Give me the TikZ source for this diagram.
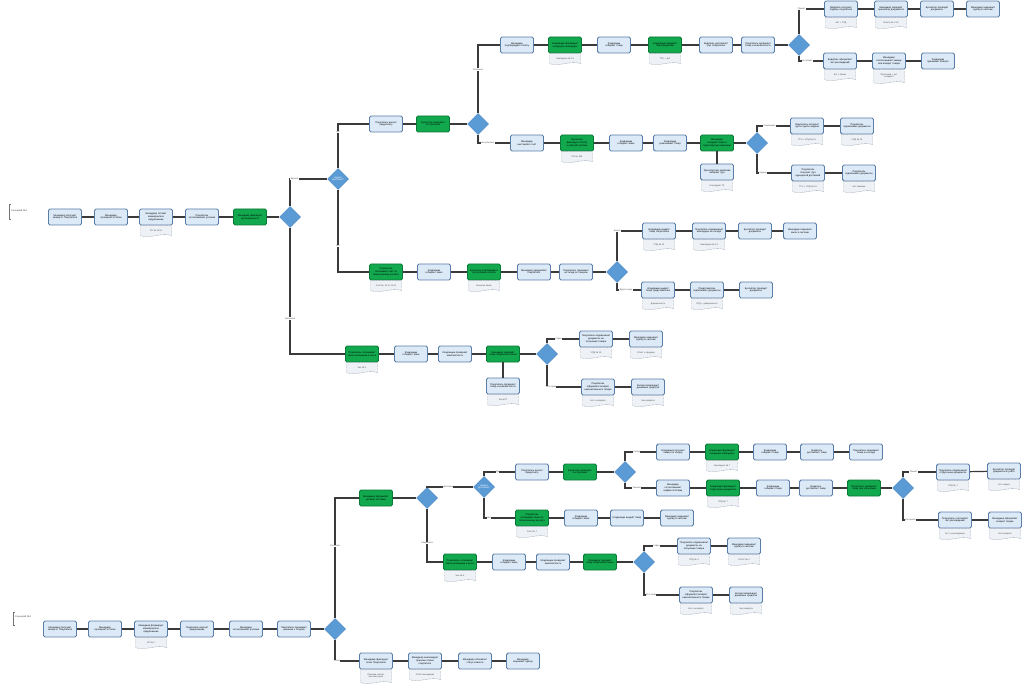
\documentclass[tikz,border=0pt]{standalone}
\usepackage{fontspec}
\setmainfont{Liberation Sans}
\usetikzlibrary{shapes.geometric}
\definecolor{boxf}{HTML}{DCE9F7}
\definecolor{boxb}{HTML}{5A7EA8}
\definecolor{gfill}{HTML}{12A84E}
\definecolor{gdraw}{HTML}{0B7A38}
\definecolor{diaf}{HTML}{5B9BD5}
\definecolor{diab}{HTML}{4A88C4}
\definecolor{lineC}{HTML}{3A3A3A}
\definecolor{docf}{HTML}{EEF2F7}
\definecolor{docb}{HTML}{9AA4B2}
\tikzset{
  tinyf/.style={font=\fontsize{2.4}{2.8}\selectfont},
  box/.style={tinyf, draw=boxb, fill=boxf, rounded corners=1.6pt, line width=0.9pt, minimum width=33pt, minimum height=16pt, text width=29pt, align=center, inner sep=0pt},
  gbox/.style={box, draw=gdraw, fill=gfill},
  dia/.style={tinyf, diamond, draw=diab, fill=diaf, line width=0.5pt, minimum width=21pt, minimum height=21pt, inner sep=0pt, text=white, align=center},
  con/.style={draw=lineC, line width=1.2pt},
  elab/.style={font=\fontsize{2.2}{2.6}\selectfont, fill=white, inner sep=0.4pt, text=black!70},
  doctext/.style={font=\fontsize{2.2}{2.6}\selectfont, text width=28pt, align=center, inner sep=0pt, text=black!70},
  docshape/.style={draw=docb, dash pattern=on 0.8pt off 0.6pt, fill=docf, line width=0.4pt},
  annot/.style={draw=black!55, line width=0.4pt},
}
% [side height]{name}{x}{y of box centre}{text}
\newcommand\docu[5][10]{%
  \path[docshape] (#3-15.5,#4+8.6) -- (#3+15.5,#4+8.6) -- (#3+15.5,#4+8.6+#1)
    .. controls (#3+6,#4+8.6+#1-3.5) and (#3-6,#4+8.6+#1+3.5) .. (#3-15.5,#4+8.6+#1) -- cycle;
  \node[doctext] (#2) at (#3,#4+8.6+#1/2) {#5};
}
\begin{document}
\begin{tikzpicture}[x=1pt,y=-1pt]
\fill[white] (0,0) rectangle (1024,684);
\useasboundingbox (0,0) rectangle (1024,684);

% ---------------- Scenario 1 ----------------
\draw[annot] (11,204) -- (9,204) -- (9,219) -- (11,219);
\node[tinyf, anchor=west, inner sep=0pt, text=black!70] (scn1) at (11,211) {Сценарий №1};

\node[box] (A1) at (65,217) {Менеджер получает заявку от Покупателя};
\node[box] (A2) at (111,217) {Менеджер проверяет остатки};
\node[box] (A3) at (156,217) {Менеджер готовит коммерческое предложение};
\docu{A3d}{156}{217}{КП № 1234}
\node[box] (A4) at (202,217) {Покупатель согласовывает условия};
\node[gbox] (A5) at (250,217) {Менеджер фиксирует договорённости};
\node[dia] (D1) at (290,217) {};
\node[dia] (D2) at (338,179) {Нужна\\доставка?};

\node[box] (B1) at (386,124) {Покупатель вносит предоплату};
\node[gbox] (B2) at (433,124) {Бухгалтер проверяет поступление};
\node[dia] (D3) at (478,124) {};

\node[box] (C1) at (517,45) {Менеджер подтверждает оплату};
\node[gbox] (C2) at (565,45) {Кладовщик формирует складскую накладную};
\docu{C2d}{565}{45}{Накладная № 15}
\node[box] (C3) at (614,45) {Кладовщик собирает товар};
\node[gbox] (C4) at (665,45) {Кладовщик передаёт товар водителю};
\docu{C4d}{665}{45}{ТТН + Акт}
\node[box] (C5) at (716,45) {Водитель доставляет груз покупателю};
\node[box] (C6) at (758,45) {Покупатель проверяет товар и комплектность};
\node[dia] (D4) at (799,45) {};

\node[box] (E1) at (841,9) {Водитель получает подпись покупателя};
\docu{E1d}{841}{9}{Акт + УПД}
\node[box] (E2) at (891,9) {Менеджер передаёт оригиналы документов};
\docu{E2d}{891}{9}{Реестр № 2-10}
\node[box] (E3) at (937,9) {Бухгалтер проводит документы};
\node[box] (E4) at (983,9) {Менеджер закрывает сделку в системе};

\node[box] (F1) at (840,61) {Водитель оформляет акт расхождений};
\docu{F1d}{840}{61}{Акт о браке}
\node[box] (F2) at (889,61) {Менеджер согласовывает замену или возврат товара};
\docu[13]{F2d}{889}{61}{Претензия + акт\\возврата}
\node[box] (F3) at (938,61) {Кладовщик принимает возврат};

\node[box] (G1) at (527,143) {Менеджер выставляет счёт};
\node[gbox] (G2) at (577,143) {Бухгалтер фиксирует оплату в учётной системе};
\docu{G2d}{577}{143}{П/п № 456}
\node[box] (G3) at (626,143) {Кладовщик собирает заказ};
\node[box] (G4) at (670,143) {Кладовщик упаковывает товар};
\node[gbox] (G5) at (717,143) {Менеджер передаёт заказ в транспортную компанию};
\node[box] (G5b) at (717,172) {Транспортная компания забирает груз};
\docu{G5bd}{717}{172}{Накладная ТК}
\node[dia] (D5) at (757,143) {};

\node[box] (H1) at (807,126) {Покупатель получает груз в пункте выдачи};
\docu{H1d}{807}{126}{ТТН + УПД № 15}
\node[box] (H2) at (857,126) {Покупатель подписывает документы};
\docu{H2d}{857}{126}{УПД № 15}
\node[box] (I1) at (808,173) {Покупатель получает груз курьерской доставкой};
\docu{I1d}{808}{173}{ТТН + УПД № 15}
\node[box] (I2) at (859,173) {Покупатель подписывает документы};
\docu{I2d}{859}{173}{Акт приёмки}

\node[gbox] (J1) at (386,272) {Покупатель оплачивает счёт по безналичному расчёту};
\docu{J1d}{386}{272}{Счёт № 15 от 01.02}
\node[box] (J2) at (434,272) {Кладовщик собирает заказ};
\node[gbox] (J3) at (484,272) {Бухгалтер подтверждает поступление оплаты};
\docu{J3d}{484}{272}{Выписка банка}
\node[box] (J4) at (534,272) {Менеджер уведомляет покупателя};
\node[box] (J5) at (576,272) {Покупатель приезжает на склад за товаром};
\node[dia] (D6) at (617,272) {};

\node[box] (K1) at (659,231) {Кладовщик выдаёт товар покупателю};
\docu{K1d}{659}{231}{УПД № 15}
\node[box] (K2) at (709,231) {Покупатель подписывает накладную на складе};
\docu{K2d}{709}{231}{Накладная № 15}
\node[box] (K3) at (755,231) {Бухгалтер проводит документы};
\node[box] (K4) at (800,231) {Менеджер закрывает заказ в системе};
\node[box] (L1) at (658,290) {Кладовщик выдаёт товар представителю};
\docu{L1d}{658}{290}{Доверенность}
\node[box] (L2) at (707,290) {Представитель подписывает документы};
\docu{L2d}{707}{290}{УПД + доверенность}
\node[box] (L3) at (756,290) {Бухгалтер проводит документы};

\node[gbox] (M1) at (362,354) {Покупатель оплачивает заказ наличными в кассе};
\docu{M1d}{362}{354}{Чек № 1}
\node[box] (M2) at (411,354) {Кладовщик собирает заказ};
\node[box] (M3) at (455,354) {Кладовщик проверяет комплектность};
\node[gbox] (M4) at (503,354) {Менеджер передаёт товар покупателю лично};
\node[box] (M4b) at (503,386) {Покупатель проверяет товар и комплектность};
\docu{M4bd}{503}{386}{Чек ККТ}
\node[dia] (D7) at (547,354) {};
\node[box] (N1) at (596,339) {Покупатель подписывает документы на получение товара};
\docu{N1d}{596}{339}{УПД № 15}
\node[box] (N2) at (646,339) {Менеджер закрывает сделку в системе};
\docu{N2d}{646}{339}{Отчёт о продаже}
\node[box] (O1) at (598,387) {Покупатель оформляет возврат некачественного товара};
\docu{O1d}{598}{387}{Акт о возврате}
\node[box] (O2) at (648,387) {Кассир возвращает денежные средства};
\docu{O2d}{648}{387}{Чек возврата}

% connectors scenario 1
\draw[con] (A1) -- (A2);
\draw[con] (A2) -- (A3);
\draw[con] (A3) -- (A4);
\draw[con] (A4) -- (A5);
\draw[con] (A5) -- (D1);
\draw[con] (D1.north) |- (D2.west) node[elab,pos=0.56]{Безнал};
\draw[con] (D1.south) |- (M1.west) node[elab,pos=0.36]{Наличные};
\draw[con] (D2.north) |- (B1.west) node[elab,pos=0.41]{Да};
\draw[con] (D2.south) |- (J1.west) node[elab,pos=0.34]{Нет};
\draw[con] (B1) -- (B2);
\draw[con] (B2) -- (D3);
\draw[con] (D3.north) |- (C1.west) node[elab,pos=0.32]{Оплачено};
\draw[con] (D3.south) |- (G1.west) node[elab,pos=0.65]{Не оплачено};
\draw[con] (C1) -- (C2);
\draw[con] (C2) -- (C3);
\draw[con] (C3) -- (C4);
\draw[con] (C4) -- (C5);
\draw[con] (C5) -- (C6);
\draw[con] (C6) -- (D4);
\draw[con] (D4.north) |- (E1.west) node[elab,pos=0.55]{Принят};
\draw[con] (D4.south) |- (F1.west) node[elab,pos=0.67]{Не принят};
\draw[con] (E1) -- (E2);
\draw[con] (E2) -- (E3);
\draw[con] (E3) -- (E4);
\draw[con] (F1) -- (F2);
\draw[con] (F2) -- (F3);
\draw[con] (G1) -- (G2);
\draw[con] (G2) -- (G3);
\draw[con] (G3) -- (G4);
\draw[con] (G4) -- (G5);
\draw[con] (G5) -- (D5);
\draw[con] (G5.south) -- (G5b.north);
\draw[con] (D5.north) |- (H1.west) node[elab,pos=0.69]{Самовывоз};
\draw[con] (D5.south) |- (I1.west) node[elab,pos=0.59]{Курьер};
\draw[con] (H1) -- (H2);
\draw[con] (I1) -- (I2);
\draw[con] (J1) -- (J2);
\draw[con] (J2) -- (J3);
\draw[con] (J3) -- (J4);
\draw[con] (J4) -- (J5);
\draw[con] (J5) -- (D6);
\draw[con] (D6.north) |- (K1.west) node[elab,pos=0.5]{Лично};
\draw[con] (D6.south) |- (L1.west) node[elab,pos=0.69]{Другое лицо};
\draw[con] (K1) -- (K2);
\draw[con] (K2) -- (K3);
\draw[con] (K3) -- (K4);
\draw[con] (L1) -- (L2);
\draw[con] (L2) -- (L3);
\draw[con] (M1) -- (M2);
\draw[con] (M2) -- (M3);
\draw[con] (M3) -- (M4);
\draw[con] (M4) -- (D7);
\draw[con] (M4.south) -- (M4b.north);
\draw[con] (D7.north) |- (N1.west) node[elab,pos=0.68]{Годен};
\draw[con] (D7.south) |- (O1.west) node[elab,pos=0.56]{Есть брак};
\draw[con] (N1) -- (N2);
\draw[con] (O1) -- (O2);

% ---------------- Scenario 2 ----------------
\draw[annot] (15,612) -- (13,612) -- (13,625) -- (15,625);
\node[tinyf, anchor=west, inner sep=0pt, text=black!70] (scn2) at (15,617) {Сценарий №2};

\node[box] (P1) at (60,629) {Менеджер получает заявку от Покупателя};
\node[box] (P2) at (105,629) {Менеджер проверяет остатки};
\node[box] (P3) at (151,629) {Менеджер формирует коммерческое предложение};
\docu{P3d}{151}{629}{КП № 2}
\node[box] (P4) at (197,629) {Покупатель изучает предложение};
\node[box] (P5) at (246,629) {Менеджер согласовывает условия};
\node[box] (P6) at (294,629) {Покупатель принимает решение о покупке};
\node[dia] (D8) at (335,629) {};

\node[gbox] (Q1) at (376,498) {Менеджер оформляет договор поставки};
\node[dia] (D9) at (427,498) {};
\node[dia] (D10) at (484,487) {Нужна\\доставка?};

\node[box] (S1) at (532,472) {Покупатель вносит предоплату};
\node[gbox] (S2) at (580,472) {Бухгалтер проверяет поступление};
\node[dia] (D11) at (625,472) {};

\node[box] (U1) at (673,452) {Кладовщик получает заявку на сборку};
\node[gbox] (U2) at (722,452) {Кладовщик формирует складскую накладную};
\docu{U2d}{722}{452}{Накладная № 7}
\node[box] (U3) at (770,452) {Кладовщик собирает товар};
\node[box] (U4) at (817,452) {Водитель доставляет товар};
\node[box] (U5) at (866,452) {Покупатель принимает товар на складе};

\node[box] (V1) at (673,488) {Менеджер согласовывает график поставки};
\node[gbox] (V2) at (723,488) {Кладовщик формирует отгрузочные документы};
\docu{V2d}{723}{488}{УПД № 7}
\node[box] (V3) at (773,488) {Кладовщик собирает товар};
\node[box] (V4) at (816,488) {Водитель доставляет товар};
\node[gbox] (V5) at (864,488) {Покупатель проверяет товар при получении};
\node[dia] (D12) at (903,488) {};

\node[box] (W1) at (953,472) {Покупатель подписывает отгрузочные документы};
\docu{W1d}{953}{472}{УПД № 7}
\node[box] (W2) at (1004,471) {Бухгалтер проводит документы в учёте};
\docu{W2d}{1004}{471}{Акт сверки}
\node[box] (X1) at (955,520) {Покупатель составляет акт расхождений};
\docu{X1d}{955}{520}{Акт о расхождении}
\node[box] (X2) at (1005,520) {Менеджер оформляет возврат товара};
\docu{X2d}{1005}{520}{Акт возврата}

\node[gbox] (T1) at (532,518) {Покупатель оплачивает заказ по безналичному расчёту};
\docu{T1d}{532}{518}{Счёт № 7}
\node[box] (T2) at (581,518) {Кладовщик собирает заказ};
\node[box] (T3) at (627,518) {Кладовщик выдаёт товар};
\node[box] (T4) at (677,518) {Менеджер закрывает сделку в системе};

\node[gbox] (R1) at (460,562) {Покупатель оплачивает заказ наличными в кассе};
\docu{R1d}{460}{562}{Чек № 3}
\node[box] (R2) at (509,562) {Кладовщик собирает заказ};
\node[box] (R3) at (553,562) {Кладовщик проверяет комплектность};
\node[gbox] (R4) at (600,562) {Менеджер передаёт товар покупателю лично};
\node[dia] (D13) at (644,562) {};

\node[box] (Y1) at (694,546) {Покупатель подписывает документы на получение товара};
\docu{Y1d}{694}{546}{УПД № 3}
\node[box] (Y2) at (744,546) {Менеджер закрывает сделку в системе};
\docu{Y2d}{744}{546}{Отчёт № 3}
\node[box] (Z1) at (696,595) {Покупатель оформляет возврат некачественного товара};
\docu{Z1d}{696}{595}{Акт о возврате}
\node[box] (Z2) at (746,595) {Кассир возвращает денежные средства};
\docu{Z2d}{746}{595}{Чек возврата}

\node[box] (AA1) at (376,661) {Менеджер фиксирует отказ Покупателя};
\docu[13]{AA1d}{376}{661}{Причина отказа:\\высокая цена}
\node[box] (AA2) at (425,661) {Менеджер анализирует причины отказа покупателя};
\docu{AA2d}{425}{661}{Отчёт менеджера}
\node[box] (AA3) at (475,661) {Менеджер обновляет статус клиента};
\node[box] (AA4) at (523,661) {Менеджер закрывает сделку};

% connectors scenario 2
\draw[con] (P1) -- (P2);
\draw[con] (P2) -- (P3);
\draw[con] (P3) -- (P4);
\draw[con] (P4) -- (P5);
\draw[con] (P5) -- (P6);
\draw[con] (P6) -- (D8);
\draw[con] (D8.north) |- (Q1.west) node[elab,pos=0.3]{Согласен};
\draw[con] (D8.south) |- (AA1.west) node[elab,pos=0.54]{Отказ};
\draw[con] (Q1) -- (D9);
\draw[con] (D9.north) |- (D10.west) node[elab,pos=0.73]{Доставка};
\draw[con] (D9.south) |- (R1.west) node[elab,pos=0.32]{Самовывоз};
\draw[con] (D10.north) |- (S1.west) node[elab,pos=0.72]{Да};
\draw[con] (D10.south) |- (T1.west) node[elab,pos=0.58]{Нет};
\draw[con] (S1) -- (S2);
\draw[con] (S2) -- (D11);
\draw[con] (D11.north) |- (U1.west) node[elab,pos=0.69]{Склад};
\draw[con] (D11.south) |- (V1.west) node[elab,pos=0.69]{Транзит};
\draw[con] (U1) -- (U2);
\draw[con] (U2) -- (U3);
\draw[con] (U3) -- (U4);
\draw[con] (U4) -- (U5);
\draw[con] (V1) -- (V2);
\draw[con] (V2) -- (V3);
\draw[con] (V3) -- (V4);
\draw[con] (V4) -- (V5);
\draw[con] (V5) -- (D12);
\draw[con] (D12.north) |- (W1.west) node[elab,pos=0.66]{Принят};
\draw[con] (D12.south) |- (X1.west) node[elab,pos=0.61]{Не принят};
\draw[con] (W1) -- (W2);
\draw[con] (X1) -- (X2);
\draw[con] (T1) -- (T2);
\draw[con] (T2) -- (T3);
\draw[con] (T3) -- (T4);
\draw[con] (R1) -- (R2);
\draw[con] (R2) -- (R3);
\draw[con] (R3) -- (R4);
\draw[con] (R4) -- (D13);
\draw[con] (D13.north) |- (Y1.west) node[elab,pos=0.69]{Годен};
\draw[con] (D13.south) |- (Z1.west) node[elab,pos=0.6]{Есть брак};
\draw[con] (Y1) -- (Y2);
\draw[con] (Z1) -- (Z2);
\draw[con] (AA1) -- (AA2);
\draw[con] (AA2) -- (AA3);
\draw[con] (AA3) -- (AA4);
\end{tikzpicture}
\end{document}
